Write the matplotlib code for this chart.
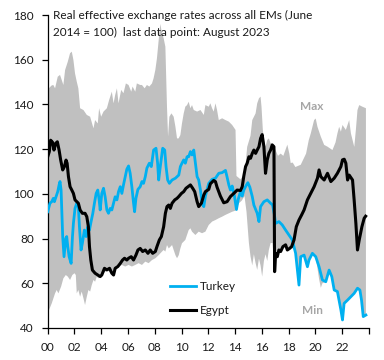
import matplotlib
matplotlib.use('Agg')
import matplotlib.pyplot as plt
import numpy as np

plt.rcParams['font.family'] = ['Lato', 'DejaVu Sans']

# ---- data (decimal years since 2000, index June 2014 = 100) ----
turkey_t = [0.0, 0.17, 0.3, 0.42, 0.5, 0.62, 0.75, 0.85, 0.92, 1.0, 1.05, 1.12, 1.22, 1.35, 1.42, 1.5, 1.6, 1.75,
            1.85, 1.92, 2.04, 2.17, 2.29, 2.37, 2.49, 2.59, 2.74, 2.87, 2.99, 3.12, 3.24, 3.37, 3.49, 3.62, 3.74,
            3.84, 3.92, 4.04, 4.17, 4.29, 4.42, 4.54, 4.67, 4.79, 4.92, 5.04, 5.17, 5.29, 5.42, 5.54, 5.66, 5.79,
            5.91, 6.04, 6.16, 6.29, 6.41, 6.49, 6.59, 6.74, 6.91, 7.04, 7.16, 7.29, 7.41, 7.59, 7.74, 7.91, 8.09,
            8.21, 8.29, 8.41, 8.59, 8.74, 8.84, 8.96, 9.09, 9.29, 9.54, 9.79, 9.91, 10.03, 10.16, 10.28, 10.41,
            10.53, 10.66, 10.78, 10.91, 11.03, 11.16, 11.28, 11.41, 11.53, 11.66, 11.78, 11.91, 12.03, 12.28,
            12.53, 12.78, 13.03, 13.28, 13.4, 13.53, 13.65, 13.78, 13.95, 14.1, 14.23, 14.4, 14.53, 14.65, 14.8,
            14.95, 15.1, 15.28, 15.4, 15.65, 15.78, 15.9, 16.15, 16.4, 16.65, 16.8, 16.95, 17.02, 17.27, 17.52,
            17.77, 18.02, 18.27, 18.52, 18.65, 18.77, 18.9, 19.15, 19.4, 19.52, 19.77, 20.02, 20.27, 20.52, 20.77,
            21.02, 21.22, 21.4, 21.64, 21.9, 22.02, 22.14, 22.4, 22.64, 22.89, 23.14, 23.32, 23.44, 23.57, 23.77]
turkey_v = [92, 95.8, 96.5, 98, 96.5, 98.7, 101, 104, 105.5, 101.7, 92.8, 80.9, 71.9, 80.1, 80.9, 76.4, 71.9, 68.9,
            80.9, 86.8, 93.5, 95.8, 94.3, 85.3, 74.9, 77.9, 83.8, 80.9, 85.3, 83.8, 87.6, 91.3, 95.8, 100.2, 101.7,
            97.3, 92.8, 100.2, 102.5, 98.7, 92.8, 91.3, 93.5, 92.8, 95.8, 98.7, 97.3, 101, 103.2, 100.2, 104, 107.7,
            111, 112.5, 109.2, 103, 96, 92, 98, 102, 103.2, 105.5, 104.7, 107.7, 111.5, 113.7, 112.2, 119.6, 120.4,
            113.7, 106.2, 112.2, 120.4, 119.6, 112.2, 106.2, 104.7, 106.2, 107, 108.4, 112.2, 113.7, 115.2, 113.7,
            116.6, 116.6, 118.9, 117.4, 119.6, 113.7, 107.7, 106.2, 101.7, 95.8, 94.3, 99, 102, 104.7, 106.5,
            107, 109.2, 109.5, 110.5, 107.5, 104, 101.7, 103.5, 99, 93, 97.5, 101, 99, 101.7, 103.5,
            105, 103, 98.8, 95, 91.3, 87.6, 94.3, 96.5, 97.3, 95.8, 95, 90, 86.8, 87.6, 86.1,
            83.8, 81.6, 79.4, 73.4, 65.9, 59.2, 71.9, 72.6, 67.4, 70.4, 73.4, 71.9, 67.4, 61.5, 60.7,
            65.9, 63, 57, 56.3, 48.1, 43.6, 51, 52.5, 54, 55.5, 57.8, 57, 52.5, 45.1, 45.8]

egypt_t = [0.0, 0.12, 0.22, 0.37, 0.47, 0.6, 0.72, 0.85, 0.97, 1.12, 1.25, 1.37, 1.45, 1.55, 1.67, 1.8, 1.92, 2.04,
           2.17, 2.29, 2.42, 2.59, 2.79, 2.92, 3.04, 3.12, 3.22, 3.34, 3.54, 3.74, 3.92, 4.04, 4.24, 4.42, 4.62,
           4.79, 4.92, 5.04, 5.24, 5.42, 5.59, 5.74, 5.91, 6.04, 6.24, 6.41, 6.59, 6.74, 6.91, 7.09, 7.29, 7.49,
           7.66, 7.84, 8.04, 8.16, 8.34, 8.49, 8.66, 8.79, 8.91, 9.04, 9.16, 9.29, 9.49, 9.66, 9.79, 9.99, 10.16,
           10.33, 10.49, 10.66, 10.83, 10.98, 11.16, 11.28, 11.48, 11.66, 11.78, 12.03, 12.15, 12.4, 12.53, 12.65,
           12.9, 13.15, 13.4, 13.65, 13.9, 14.15, 14.4, 14.53, 14.65, 14.78, 14.9, 15.03, 15.15, 15.28, 15.4,
           15.53, 15.65, 15.78, 15.9, 16.02, 16.15, 16.27, 16.4, 16.52, 16.65, 16.77, 16.9, 16.95, 17.02, 17.15,
           17.27, 17.4, 17.57, 17.77, 17.9, 18.07, 18.22, 18.4, 18.57, 18.77, 18.97, 19.15, 19.4, 19.65, 19.9,
           20.15, 20.27, 20.4, 20.65, 20.9, 21.15, 21.4, 21.64, 21.9, 22.02, 22.15, 22.27, 22.4, 22.52, 22.77,
           22.89, 23.02, 23.14, 23.27, 23.47, 23.64, 23.75]
egypt_v = [116.6, 118.9, 124, 123, 119.6, 122.6, 123.3, 119.6, 115.1, 110.7, 112.2, 115.1, 113.7, 107.7, 103.2,
           101.7, 100.2, 97.3, 96.5, 95.8, 92.8, 91.3, 91.3, 89.8, 85.3, 76.4, 70.4, 65.9, 64.5, 63.7, 63, 63.7,
           66.7, 66, 66.7, 64.5, 63.7, 66.7, 67.5, 68.9, 70.4, 71.2, 70.4, 71.2, 71.9, 70.4, 72.6, 74.9, 75.6, 74.2,
           74.9, 73.4, 74.9, 73.4, 74.2, 76.4, 79.4, 80.9, 85.3, 91.3, 94.3, 95, 93.5, 95.8, 97.3, 98, 98.8, 100.2,
           101, 102.5, 103.2, 104, 102.5, 101, 96.5, 94.3, 95.8, 99.5, 101, 102, 104.5, 106, 105.5, 103,
           99, 96, 96.5, 98.8, 100.2, 101.7, 101.5, 103.2, 108, 112.2, 113.7, 116.6, 115.9, 118.1, 119.6,
           118.1, 119.6, 121.1, 124.8, 126.5, 121.1, 109.2, 115.2, 118.1, 119.6, 121.9, 121.1, 65.2, 73.4, 71.9,
           74.9, 74.2, 76.4, 77.2, 74.9, 75.6, 76.4, 79.4, 85.3, 88.3, 90.6, 92.8, 97.3, 100.2, 103.2,
           107, 110.7, 107.7, 106.2, 109.2, 105.5, 107, 109.2, 112.2, 115.2, 115.5, 113.7, 106.2, 108.4, 106.2,
           97.3, 86.8, 74.9, 79.4, 85.3, 89.1, 90]

max_t = [0.0, 0.08, 0.3, 0.42, 0.55, 0.75, 0.92, 1.05, 1.17, 1.3, 1.5, 1.67, 1.8, 1.92, 2.04, 2.17, 2.29, 2.42,
         2.67, 2.92, 3.17, 3.42, 3.54, 3.74, 3.84, 3.99, 4.17, 4.42, 4.59, 4.79, 4.92, 5.04, 5.17, 5.29, 5.49,
         5.66, 5.84, 6.04, 6.24, 6.34, 6.54, 6.66, 6.91, 7.04, 7.24, 7.41, 7.59, 7.79, 7.91, 8.04, 8.16, 8.29,
         8.41, 8.54, 8.66, 8.79, 8.91, 8.99, 9.09, 9.24, 9.41, 9.54, 9.66, 9.78, 9.91, 10.03, 10.16, 10.28,
         10.41, 10.53, 10.66, 10.78, 10.91, 11.16, 11.41, 11.66, 11.78, 12.03, 12.15, 12.28, 12.4, 12.53, 12.65,
         12.78, 13.03, 13.28, 13.53, 13.78, 14.03, 14.1, 14.4, 14.65, 14.78, 14.9, 15.15, 15.28, 15.53, 15.65,
         15.78, 15.9, 15.97, 16.07, 16.15, 16.27, 16.4, 16.52, 16.65, 16.77, 16.9, 17.02, 17.2, 17.4, 17.6,
         17.9, 18.05, 18.15, 18.3, 18.5, 18.9, 19.3, 19.5, 19.65, 19.9, 20.02, 20.15, 20.4, 20.65, 20.9, 21.27,
         21.5, 21.64, 21.77, 21.9, 22.02, 22.27, 22.52, 22.65, 22.9, 23.02, 23.14, 23.27, 23.5, 23.77]
max_v = [163.6, 147.2, 148.5, 148.7, 147.2, 152.4, 153.2, 150.9, 148.7, 155.4, 159.1, 162.9, 163.6, 159.9, 153.9,
         150.2, 147.2, 138.3, 137.5, 135.3, 134.5, 129.3, 133, 131.5, 138.3, 134.5, 136.8, 138.3, 142, 145.7,
         140.5, 144.2, 147.2, 140.5, 146.5, 145, 149.4, 148.7, 145.7, 148, 145.7, 149.4, 148.7, 148.7, 147.2,
         148.7, 148, 149.4, 151.7, 155.4, 160.6, 168.8, 176, 171.8, 169.6, 165.8, 139, 125.6, 134.5, 136,
         134.5, 130, 124.8, 124.8, 126.3, 131.5, 136, 139, 139.7, 141.2, 138.3, 139.7, 137.5, 136.8, 137.5,
         135.3, 139.7, 139, 140.5, 138.3, 136.8, 140.5, 137.5, 133, 133.8, 133, 132.3, 130.8, 128.6, 108,
         106.5, 108.5, 113, 121, 126, 133, 136, 140.5, 142.7, 143.5, 139, 128.6, 124.1, 121.1, 124.1, 124.8,
         122.6, 122.5, 121.5, 119.6, 117, 118, 117, 122, 118, 113.8, 114, 112, 113, 118, 124, 127, 133,
         133.7, 130, 125.6, 121.9, 121.1, 119.6, 123, 127, 130, 127.8, 130.8, 128.6, 133, 127, 121, 128.6,
         137.5, 139.7, 139, 138.3]

min_t = [0.0, 0.3, 0.55, 0.67, 0.8, 1.0, 1.17, 1.35, 1.5, 1.67, 1.84, 2.0, 2.1, 2.17, 2.29, 2.42, 2.54, 2.67,
         2.79, 2.92, 3.04, 3.17, 3.29, 3.42, 3.54, 3.67, 3.79, 3.92, 4.04, 4.29, 4.54, 4.79, 5.04, 5.29, 5.54,
         5.79, 6.04, 6.29, 6.54, 6.79, 7.04, 7.29, 7.54, 7.79, 8.04, 8.29, 8.54, 8.66, 8.79, 8.91, 9.04, 9.29,
         9.41, 9.54, 9.66, 9.79, 9.91, 10.03, 10.28, 10.53, 10.66, 10.78, 11.03, 11.28, 11.53, 11.78, 12.03,
         12.15, 12.28, 12.53, 12.78, 13.03, 13.28, 13.53, 13.78, 14.03, 14.28, 14.5, 14.7, 14.85, 15.03, 15.15,
         15.28, 15.4, 15.53, 15.65, 15.78, 15.9, 16.02, 16.15, 16.27, 16.4, 16.52, 16.65, 16.8, 16.95, 17.02,
         17.15, 17.27, 17.4, 17.57, 17.77, 17.9, 18.07, 18.22, 18.4, 18.52, 18.65, 18.77, 18.9, 19.15, 19.4,
         19.52, 19.77, 20.02, 20.27, 20.4, 20.52, 20.77, 21.02, 21.22, 21.4, 21.64, 21.9, 22.02, 22.14, 22.4,
         22.64, 22.89, 23.14, 23.32, 23.44, 23.57, 23.77]
min_v = [46.6, 51, 55.5, 57, 55.5, 58.5, 62.2, 63.7, 63, 61.5, 63.7, 64.5, 63.7, 55.5, 57, 54, 56.3, 53.3,
         50.3, 54, 57, 56.3, 59.2, 61.5, 60.7, 63, 62.2, 62.8, 63.5, 65.2, 65.5, 64, 66.5, 67.5, 68.2,
         67.5, 68.2, 67.5, 68.2, 69, 68.2, 69.7, 69, 70.4, 71.2, 72.6, 74.2, 74.9, 74.2, 77.1, 75.6, 77.1,
         74.9, 72.6, 71.2, 72.6, 75.6, 77.9, 79.4, 83.8, 84.6, 83.1, 81.6, 83.1, 82.4, 83.1, 86.1,
         86.8, 87.6, 88.3, 89.1, 89.8, 90.6, 91.3, 92, 92.5, 95.8, 97, 99, 92, 78, 72,
         68, 73, 69, 66, 71, 68, 63, 70, 73, 70, 75, 78, 78, 65.2, 73.4,
         71.9, 74.9, 74.2, 76.4, 77.2, 74.9, 75.6, 76, 75, 73.4, 65.9, 59.2, 71.9, 72.6, 67.4,
         70.4, 73.4, 71.9, 62, 58, 60, 60.7, 65.9, 63, 57, 56.3, 48.1, 43.6, 51, 52.5,
         54, 55.5, 57.8, 57, 52.5, 45.1, 45.8]

x_ticks = list(range(0, 25, 2))
x_labels = ['00', '02', '04', '06', '08', '10', '12', '14', '16', '18', '20', '22', '']
y_ticks = [40, 60, 80, 100, 120, 140, 160, 180]

W, H = 384, 360
fig = plt.figure(figsize=(W / 100, H / 100), dpi=100)
ax = fig.add_axes([47.7 / W, 1 - 328 / H, (369 - 47.7) / W, (328 - 15) / H])

band_x = np.concatenate([max_t, min_t[::-1]])
band_y = np.concatenate([max_v, min_v[::-1]])
ax.fill(band_x, band_y, color='#c0c0c0', lw=0, zorder=1)
ax.plot(turkey_t, turkey_v, color='#00b0f0', lw=2.0, label='Turkey', zorder=3, solid_joinstyle='round')
ax.plot(egypt_t, egypt_v, color='black', lw=2.2, label='Egypt', zorder=4, solid_joinstyle='round')

ax.set_xlim(0, 24)
ax.set_ylim(40, 180)
ax.set_xticks(x_ticks)
ax.set_xticklabels(x_labels)
ax.set_yticks(y_ticks)
for s in ['top', 'right']:
    ax.spines[s].set_visible(False)
for s in ['left', 'bottom']:
    ax.spines[s].set_linewidth(0.9)
    ax.spines[s].set_color('black')
ax.tick_params(axis='both', direction='out', length=4, width=0.9, labelsize=8.5, pad=6, colors='black',
               labelcolor='#1a1a1a')

fs = 8.5
fig.text(53 / W, 1 - 19 / H, 'Real effective exchange rates across all EMs (June', fontsize=fs,
         va='baseline', ha='left', color='#1a1a1a')
fig.text(53 / W, 1 - 35.7 / H, '2014 = 100)  last data point: August 2023', fontsize=fs,
         va='baseline', ha='left', color='#1a1a1a')

ax.text(19.75, 139, 'Max', fontsize=fs, fontweight='bold', color='#a6a6a6', ha='center', va='center')
ax.text(19.75, 47.8, 'Min', fontsize=fs, fontweight='bold', color='#a6a6a6', ha='center', va='center')

leg = ax.legend(loc='upper left', bbox_to_anchor=(170 / W, 1 - 281 / H), bbox_transform=fig.transFigure,
                frameon=False, fontsize=fs, handlelength=2.2, handletextpad=0.3, labelspacing=1.12,
                borderpad=0, borderaxespad=0)
for t in leg.get_texts():
    t.set_color('#1a1a1a')

fig.savefig('out.png', dpi=100)
